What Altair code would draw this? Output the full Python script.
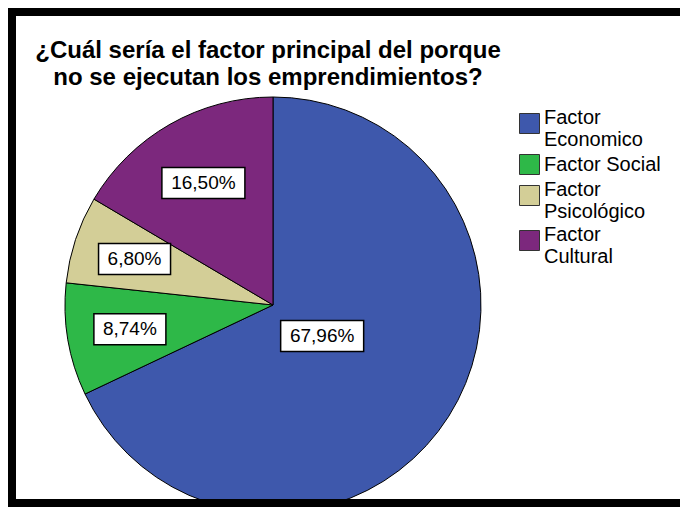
import altair as alt
import pandas as pd

# ---- data ----
CATEGORIES = ["Factor Economico", "Factor Social", "Factor Psicológico", "Factor Cultural"]
PERCENTS = [67.96, 8.74, 6.80, 16.50]
LABELS = ["67,96%", "8,74%", "6,80%", "16,50%"]
COLORS = ["#3E58AC", "#2EB848", "#D3CE97", "#7C287D"]
TITLE_LINES = ["¿Cuál sería el factor principal del porque",
               "no se ejecutan los emprendimientos?"]

# ---- layout ----
W, H = 672, 499
CX, CY, R = 265, 297, 208
FONT = "Liberation Sans"

df = pd.DataFrame({
    "categoria": CATEGORIES,
    "porcentaje": PERCENTS,
    "etiqueta": LABELS,
    "orden": list(range(len(CATEGORIES))),
})

base = alt.Chart(df)

pie = base.mark_arc(stroke="black", strokeWidth=1, radius=R).encode(
    theta=alt.Theta("porcentaje:Q", stack=True),
    order=alt.Order("orden:Q"),
    color=alt.Color(
        "categoria:N",
        sort=CATEGORIES,
        scale=alt.Scale(domain=CATEGORIES, range=COLORS),
        legend=alt.Legend(
            title=None, orient="none", legendX=511, legendY=105,
            symbolType="square", symbolSize=400,
            symbolStrokeColor="#333333", symbolStrokeWidth=1,
            labelFont=FONT, labelFontSize=20, labelColor="black",
            labelExpr="datum.label == 'Factor Social' ? datum.label : split(datum.label, ' ')",
            labelBaseline=alt.ExprRef(
                "datum.label == 'Factor Social' ? 'middle' : 'alphabetic'"),
            labelLimit=300, labelOffset=4, rowPadding=2, padding=0,
        ),
    ),
    x=alt.value(CX),
    y=alt.value(CY),
)

# labels placed at the centroid of each slice
lab = base.transform_joinaggregate(
    total="sum(porcentaje)"
).transform_window(
    cum="sum(porcentaje)", sort=[alt.SortField("orden")], frame=[None, 0]
).transform_calculate(
    mid="(datum.cum - datum.porcentaje / 2) / datum.total * 2 * PI",
    half="datum.porcentaje / datum.total * PI",
).transform_calculate(
    dist=f"1.06 * 2 * {R} * sin(datum.half) / (3 * datum.half)",
).transform_calculate(
    lx=f"{CX} + datum.dist * sin(datum.mid)",
    ly=f"{CY} - datum.dist * cos(datum.mid)",
    bw="length(datum.etiqueta) * 11 + 17",
).transform_calculate(
    bx1="datum.lx - datum.bw / 2",
    bx2="datum.lx + datum.bw / 2",
    by1="datum.ly - 15.5",
    by2="datum.ly + 15.5",
)

boxes = lab.mark_rect(fill="white", stroke="black", strokeWidth=1.5).encode(
    x=alt.X("bx1:Q", scale=None, axis=None),
    x2="bx2:Q",
    y=alt.Y("by1:Q", scale=None, axis=None),
    y2="by2:Q",
)

texts = lab.mark_text(font=FONT, fontSize=19, color="black",
                      align="center", baseline="middle").encode(
    x=alt.X("lx:Q", scale=None, axis=None),
    y=alt.Y("ly:Q", scale=None, axis=None),
    text="etiqueta:N",
)

title = alt.Chart(alt.Data(values=[{"t": "\n".join(TITLE_LINES)}])).mark_text(
    font=FONT, fontSize=24, fontWeight="bold", color="black",
    align="center", baseline="alphabetic", lineBreak="\n", lineHeight=27,
).encode(text="t:N", x=alt.value(260), y=alt.value(50))

frame = alt.Chart(alt.Data(values=[{"k": 1}])).mark_rect(
    filled=False, stroke="black", strokeWidth=8
).encode(
    x=alt.value(4), x2=alt.value(W + 40),
    y=alt.value(4), y2=alt.value(H - 4),
)

chart = alt.layer(pie, boxes, texts, title, frame).properties(
    width=W, height=H, padding=0, background="white",
    autosize=alt.AutoSizeParams(type="fit", contains="padding"),
).configure_view(stroke=None)

chart.save("out.html", embed_options={"renderer": "svg", "actions": False})
